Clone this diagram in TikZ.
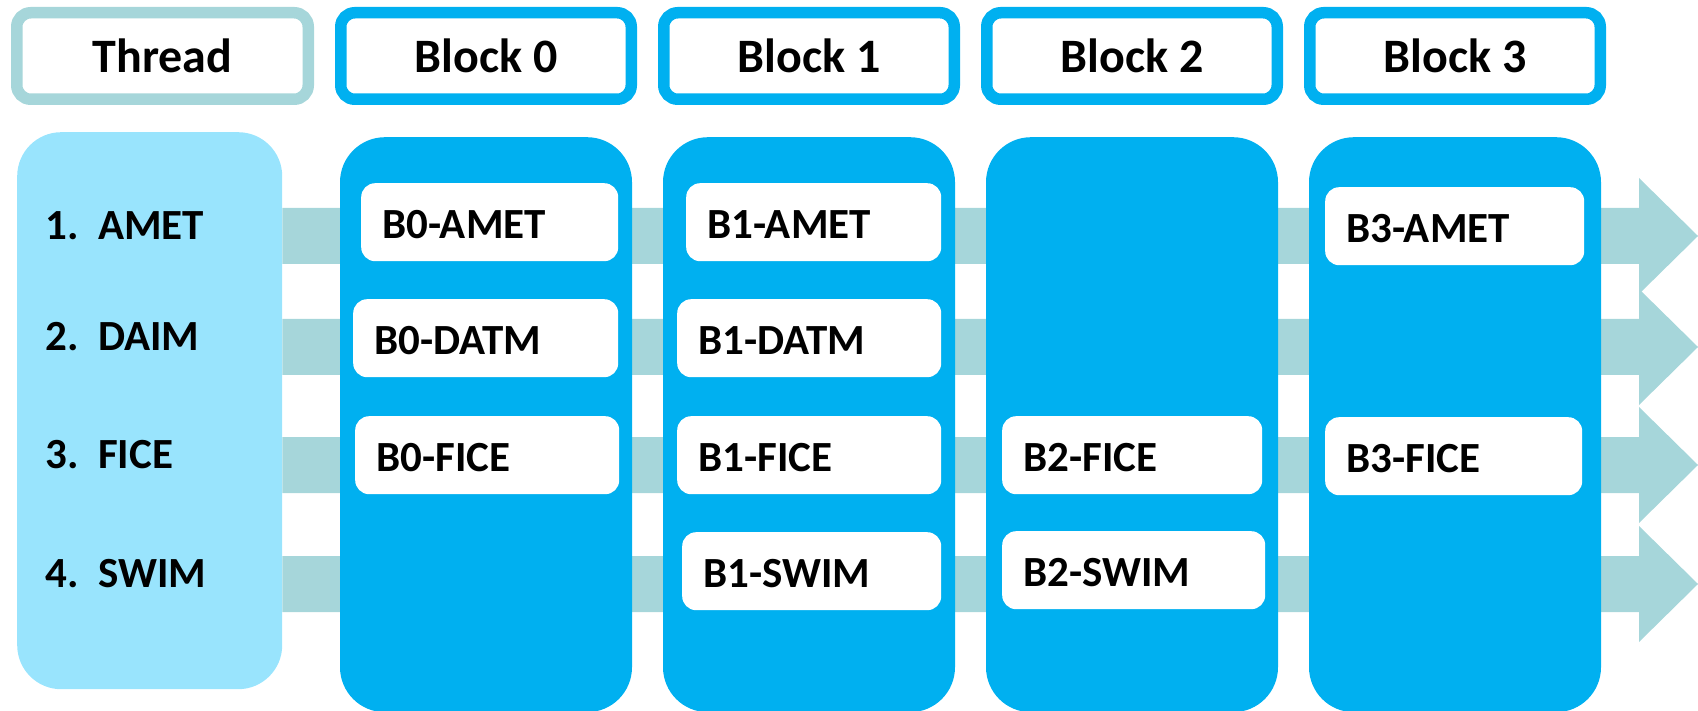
\documentclass[tikz,border=0pt]{standalone}
\usepackage{fontspec}
\setmainfont{Carlito}
\usetikzlibrary{positioning, chains, calc, backgrounds}

\definecolor{bandteal}{HTML}{A6D6DA}
\definecolor{threadblue}{HTML}{99E4FD}
\definecolor{blockblue}{HTML}{00B0F0}

\begin{document}
\begin{tikzpicture}[
    x = 1pt, y = -1pt,
    node distance = 21pt,
    start chain = going right,
    hdr/.style = {draw=blockblue, line width=11.5pt, fill=white,
        rounded corners=14pt, minimum width=290.5pt, minimum height=86.5pt,
        font=\bfseries\fontsize{48}{50}\selectfont, on chain},
    col/.style = {fill=blockblue, rounded corners=45pt,
        minimum width=292pt, minimum height=575pt},
    cell/.style = {fill=white, rounded corners=14pt, minimum height=78pt,
        anchor=north west},
    txt/.style = {font=\bfseries\fontsize{43}{45}\selectfont,
        inner sep=0pt, anchor=west, yshift=-2pt},
    band/.style = {fill=bandteal}
  ]
  \useasboundingbox (0,0) rectangle (1698,711);

  \node[hdr, draw=bandteal, minimum width=291.5pt, anchor=north west] (thr) at (11,7) {Thread};
  \foreach \i in {0,...,3}
  \node[hdr] (b\i) {Block \i};

  \node[col, fill=threadblue, rounded corners=44pt, minimum width=265pt,
    minimum height=557pt, anchor=north west] (thrcol) at (17,132) {};
  \foreach \i in {0,...,3}
  \node[col, below=32pt of b\i] (c\i) {};

  \begin{pgfonlayer}{background}
    \foreach \yy [count=\r] in {236, 347, 465, 584} {
      \coordinate (tip\r) at (1698,\yy);
      \fill[band] (thrcol.east |- tip\r) ++(0,-28) -| ($(tip\r)+(-59,-58)$)
        -- (tip\r) -- ++(-59,58) |- ($(thrcol.east |- tip\r)+(0,28)$) -- cycle;
    }
  \end{pgfonlayer}

  \foreach \w [count=\r] in {AMET, DAIM, FICE, SWIM}
  \node[txt] (lab\r) at ($(thrcol.west |- tip\r)+(28,-12.5)$) {\makebox[53pt][l]{\r.}\w};

  \foreach \nm/\xx/\yy/\ww/\txt in {
      b0amet/361/183/257/B0-AMET, b0datm/353/299/265/B0-DATM,
      b0fice/355/416/264/B0-FICE,
      b1amet/686/183/255/B1-AMET, b1datm/677/299/264/B1-DATM,
      b1fice/677/416/264/B1-FICE, b1swim/682/532/259/B1-SWIM,
      b2fice/1002/416/260/B2-FICE, b2swim/1002/531/263/B2-SWIM,
      b3amet/1325/187/259/B3-AMET, b3fice/1325/417/257/B3-FICE} {
    \node[cell, minimum width=\ww pt] (\nm) at (\xx,\yy) {};
    \node[txt] (\nm t) at ([xshift=21pt]\nm.west) {\txt};
  }
\end{tikzpicture}
\end{document}
